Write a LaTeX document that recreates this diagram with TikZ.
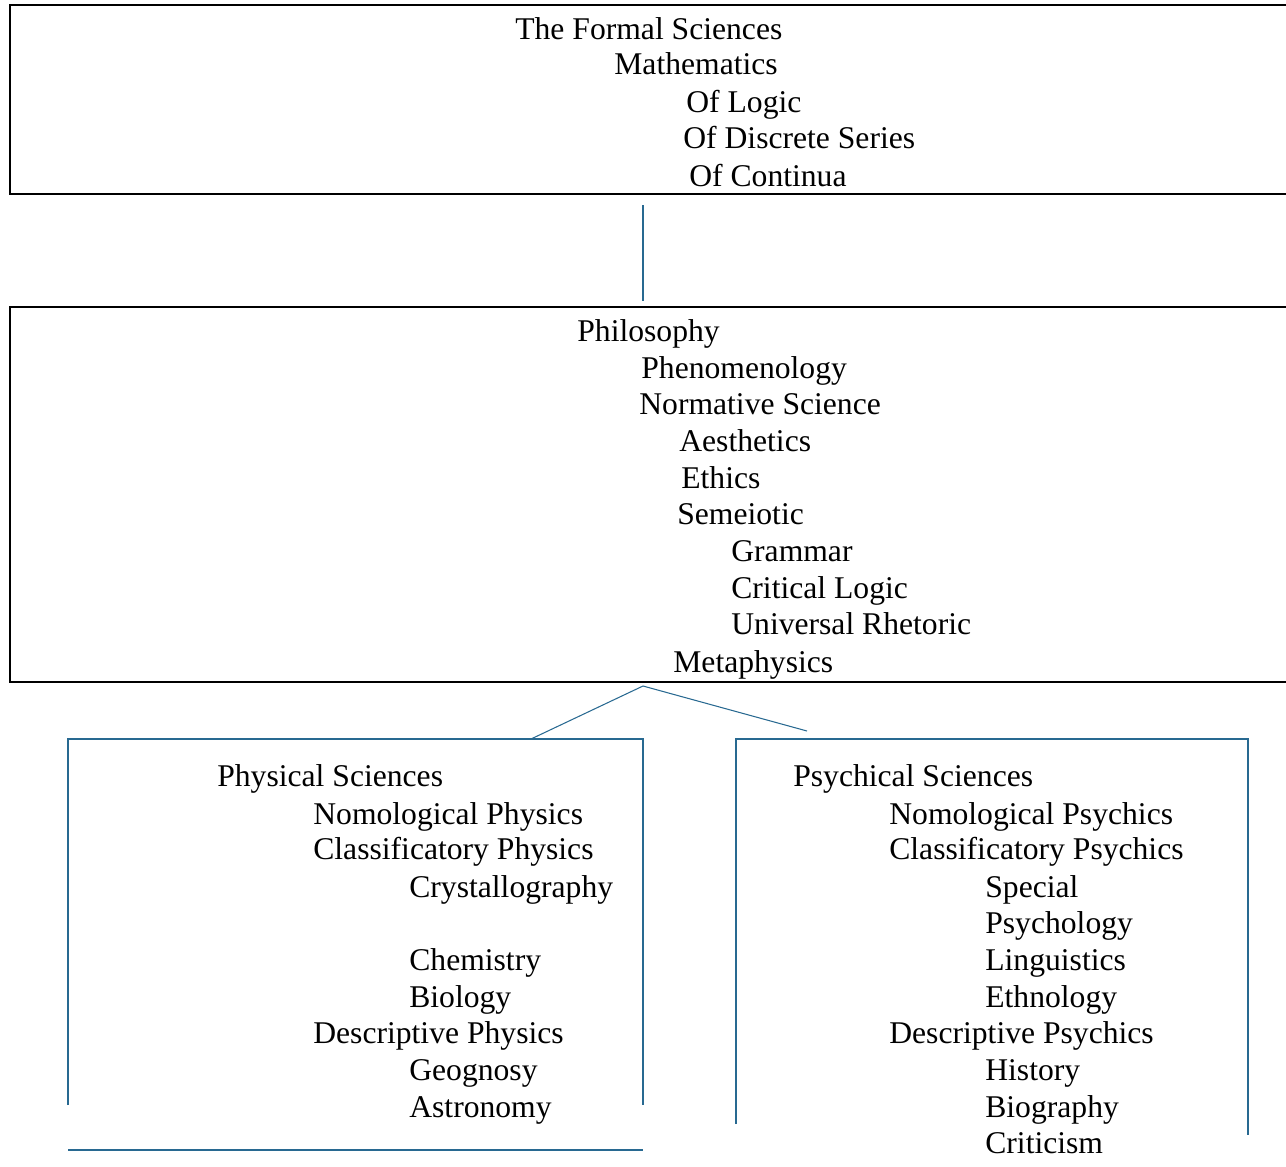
\documentclass[tikz,border=0pt]{standalone}
\usepackage{fontspec}
\setmainfont{Liberation Serif}
\definecolor{linkblue}{RGB}{40,105,145}
\begin{document}
\begin{tikzpicture}[x=0.02cm, y=-0.02cm,
    entry/.style={anchor=base west, inner sep=0pt, yshift=-0.04cm, font=\fontsize{18}{21}\selectfont},
    boxline/.style={draw=black, line width=1.1pt},
    link/.style={draw=linkblue, line width=0.6pt}]
    \path[use as bounding box, clip] (0,0) rectangle (1286,1167);

    % formal sciences
    \draw[boxline] (10,5) rectangle (1300,194);
    \node[entry] (formal) at (515, 37) {The Formal Sciences};
    \node[entry] (math)   at (614, 72) {Mathematics};
    \node[entry] (logic)  at (686,110) {Of Logic};
    \node[entry] (discr)  at (683,146) {Of Discrete Series};
    \node[entry] (contin) at (689,184) {Of Continua};

    % philosophy
    \draw[boxline] (10,307) rectangle (1300,682);
    \node[entry] (philo)  at (577,339) {Philosophy};
    \node[entry] (phen)   at (641,376) {Phenomenology};
    \node[entry] (norm)   at (639,412) {Normative Science};
    \node[entry] (aesth)  at (679,449) {Aesthetics};
    \node[entry] (ethics) at (681,486) {Ethics};
    \node[entry] (semei)  at (677,522) {Semeiotic};
    \node[entry] (gram)   at (731,559) {Grammar};
    \node[entry] (crit)   at (731,596) {Critical Logic};
    \node[entry] (rhet)   at (731,632) {Universal Rhetoric};
    \node[entry] (meta)   at (673,670) {Metaphysics};

    % physical sciences
    \draw[link] (68,1105) -- (68,739) -- (643,739) -- (643,1105);
    \draw[link, line width=1.1pt] (68,1150) -- (643,1150);
    \node[entry] (phys)    at (217, 784) {Physical Sciences};
    \node[entry] (nomphys) at (313, 822) {Nomological Physics};
    \node[entry] (clsphys) at (313, 857) {Classificatory Physics};
    \node[entry] (cryst)   at (409, 895) {Crystallography};
    \node[entry] (chem)    at (409, 968) {Chemistry};
    \node[entry] (bio)     at (409,1005) {Biology};
    \node[entry] (desphys) at (313,1041) {Descriptive Physics};
    \node[entry] (geog)    at (409,1078) {Geognosy};
    \node[entry] (astro)   at (409,1115) {Astronomy};

    % psychical sciences
    \draw[link] (736,1124) -- (736,739) -- (1248,739) -- (1248,1135);
    \node[entry] (psy)     at (793, 784) {Psychical Sciences};
    \node[entry] (nompsy)  at (889, 822) {Nomological Psychics};
    \node[entry] (clspsy)  at (889, 857) {Classificatory Psychics};
    \node[entry] (special) at (985, 895) {Special};
    \node[entry] (psychol) at (985, 931) {Psychology};
    \node[entry] (ling)    at (985, 968) {Linguistics};
    \node[entry] (ethno)   at (985,1005) {Ethnology};
    \node[entry] (despsy)  at (889,1041) {Descriptive Psychics};
    \node[entry] (hist)    at (985,1078) {History};
    \node[entry] (biog)    at (985,1115) {Biography};
    \node[entry] (critic)  at (985,1151) {Criticism};

    % connectors
    \coordinate (formalfoot) at (643,205);
    \coordinate (philohead)  at (643,301);
    \coordinate (philofoot)  at (643,686);
    \coordinate (physhead)   at (531,739);
    \coordinate (psyhead)    at (807,731);
    \draw[link] (formalfoot) -- (philohead);
    \draw[link] (physhead) -- (philofoot) -- (psyhead);
\end{tikzpicture}
\end{document}
